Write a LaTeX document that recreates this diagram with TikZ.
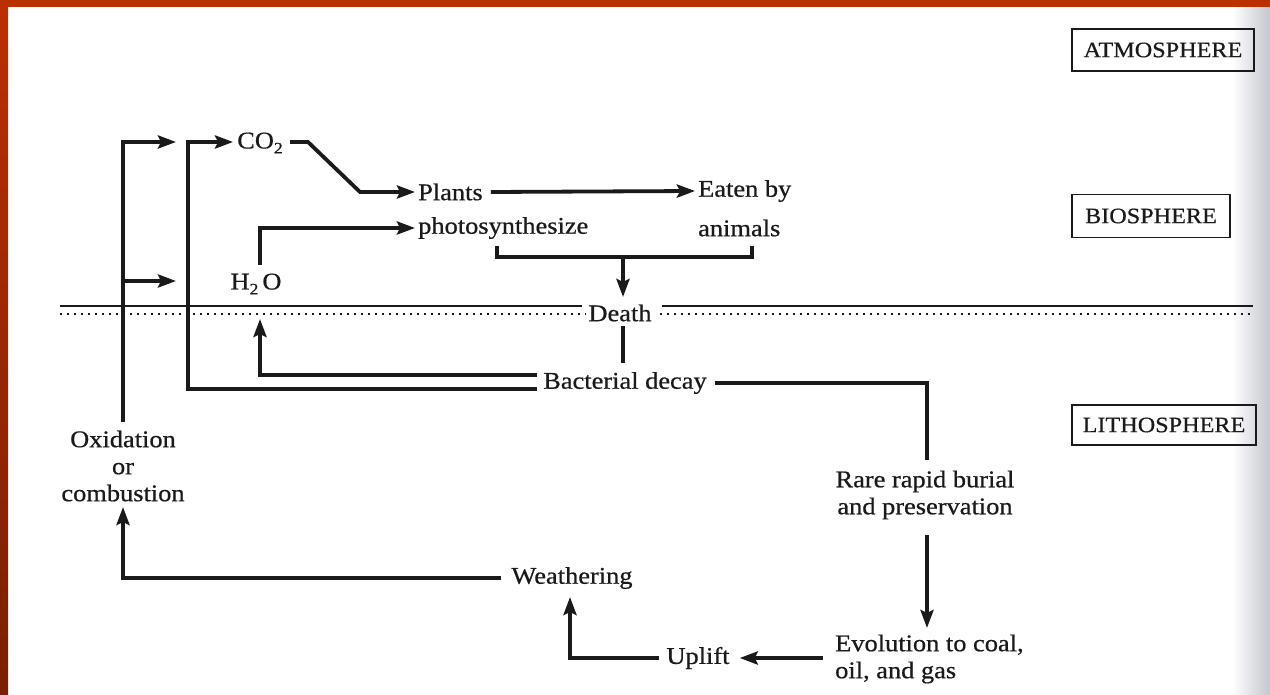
\documentclass[tikz,border=0pt]{standalone}
\usepackage{fontspec}
\setmainfont{Liberation Serif}[FakeStretch=1.1,FakeBold=0.6]
\usetikzlibrary{arrows.meta}
\definecolor{framered}{HTML}{BB3000}
\definecolor{framedark}{HTML}{7A2000}
\definecolor{ink}{HTML}{1A1A1A}
\definecolor{binding}{HTML}{C4C6CE}
\newcommand{\lowsub}[1]{\raisebox{-0.45ex}{\fontsize{16}{16}\selectfont #1}}
\begin{document}
\begin{tikzpicture}[x=1pt,y=-1pt,
  txt/.style={font=\fontsize{24}{27}\selectfont, inner sep=0pt, text=ink},
  flow/.style={line width=3.8pt, draw=ink},
  arr/.style={flow, -{Stealth[length=18pt,width=13pt,inset=3pt]}},
  sphere/.style={draw=ink, line width=1.8pt, inner sep=0pt, text=ink, font=\fontsize{22}{24}\selectfont},
  layer/.style={line width=2.4pt, draw=ink},
  dotline/.style={line width=2.8pt, draw=ink, dash pattern=on 2.4pt off 4.6pt}
]
% page, frame
\useasboundingbox (0,0) rectangle (1270,695);
\fill[white] (0,0) rectangle (1270,695);
\shade[left color=white, right color=binding] (1232,7) rectangle (1270,695);
\fill[framered] (0,0) rectangle (1270,7);
\shade[top color=framered, bottom color=framedark] (0,0) rectangle (8,695);

% sphere labels
\node[sphere, minimum width=182pt, minimum height=42pt] (atm) at (1163,50) {ATMOSPHERE};
\node[sphere, minimum width=158pt, minimum height=43pt] (bio) at (1151,216) {BIOSPHERE};
\node[sphere, minimum width=184pt, minimum height=40pt] (litho) at (1164,425) {LITHOSPHERE};

% text nodes
\node[txt] (co2) at (260,143) {CO\lowsub{2}};
\node[txt, anchor=west] (plants) at (418,192) {Plants};
\node[txt, anchor=west] (photo) at (418,228) {photosynthesize};
\node[txt, anchor=west] (eaten) at (698,191) {Eaten by};
\node[txt, anchor=west] (animals) at (698,228) {animals};
\node[txt] (h2o) at (256,284) {H\lowsub{2}\,O};
\node[txt] (death) at (620,313) {Death};
\node[txt] (decay) at (625,383) {Bacterial decay};
\node[txt, align=center] (rare) at (925,495) {Rare rapid burial\\and preservation};
\node[txt, align=left, anchor=west] (evol) at (835,659) {Evolution to coal,\\oil, and gas};
\node[txt] (uplift) at (698,658) {Uplift};
\node[txt] (weather) at (572,578) {Weathering};
\node[txt, align=center] (oxid) at (123,466) {Oxidation\\or\\combustion};

% boundary between biosphere and lithosphere
\draw[layer] (60,306) -- ([xshift=-6pt]death.west |- 0,306);
\draw[layer] ([xshift=10pt]death.east |- 0,306) -- (1253,306);
\draw[dotline] (60,314) -- ([xshift=-2pt]death.west |- 0,314);
\draw[dotline] ([xshift=8pt]death.east |- 0,314) -- (1253,314);

% named free ends and turning points
\coordinate (oxTop) at (123,422);
\coordinate (oxBranch) at (123,281);
\coordinate (atmHigh) at (176,142);
\coordinate (atmLow) at (176,281);
\coordinate (decayHigh) at (537,375);
\coordinate (decayLow) at (537,389);
\coordinate (co2Col) at (188,142);
\coordinate (h2oTip) at (260,319);
\coordinate (h2oTop) at (260,265);
\coordinate (co2Out) at (290,142);
\coordinate (bendA) at (308,142);
\coordinate (bendB) at (360,192);
\coordinate (brL) at (497,246);
\coordinate (brLb) at (497,257);
\coordinate (brRb) at (752,257);
\coordinate (brR) at (752,246);
\coordinate (brMid) at (623,257);
\coordinate (deathTip) at (623,297);
\coordinate (deathLow) at (623,326);
\coordinate (decayTop) at (623,363);
\coordinate (rareTop) at (927,460);
\coordinate (rareBot) at (927,535);
\coordinate (evolTop) at (927,628);
\coordinate (weatherTip) at (570,597);
\coordinate (oxTip) at (123,507);

% connectors
\draw[arr] (oxTop) |- (atmHigh);
\draw[arr] (oxBranch) -- (atmLow);
\draw[arr] (decayLow) -| (co2Col) -- ([xshift=-4pt]co2.west |- co2Col);
\draw[arr] (decayHigh) -| (h2oTip);
\draw[arr] (h2oTop) |- ([xshift=-3pt]photo.west);
\draw[arr] (co2Out) -- (bendA) -- (bendB) -- ([xshift=-3pt]plants.west);
\draw[arr] ([xshift=8pt]plants.east) -- ([xshift=-3pt]eaten.west);
\draw[flow] (brL) -- (brLb) -- (brRb) -- (brR);
\draw[arr] (brMid) -- (deathTip);
\draw[flow] (deathLow) -- (decayTop);
\draw[flow] ([xshift=8pt]decay.east) -| (rareTop);
\draw[arr] (rareBot) -- (evolTop);
\draw[arr] ([xshift=-12pt]evol.west |- uplift.east) -- ([xshift=10pt]uplift.east);
\draw[arr] ([xshift=-7pt]uplift.west) -| (weatherTip);
\draw[arr] ([xshift=-10pt]weather.west) -| (oxTip);
\end{tikzpicture}
\end{document}
